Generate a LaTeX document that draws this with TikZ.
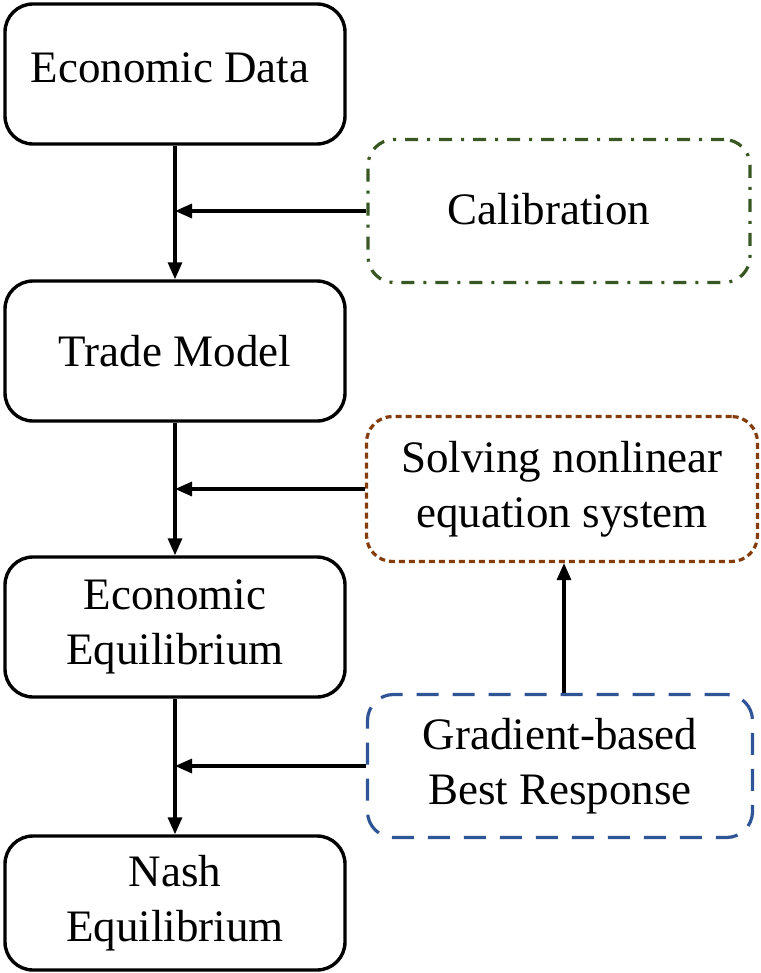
\documentclass[tikz,border=0pt]{standalone}
\usepackage{fontspec}
\setmainfont{Liberation Serif}
\usetikzlibrary{arrows.meta}
\definecolor{calgreen}{HTML}{385723}
\definecolor{solvebrown}{HTML}{843C0C}
\definecolor{gradblue}{HTML}{2F5597}
\begin{document}
\begin{tikzpicture}[x=1pt,y=-1pt,
  labeltext/.style={font=\fontsize{45}{55}\selectfont, align=center, inner sep=0pt},
  stagebox/.style={labeltext, draw=black, line width=3.4pt, rounded corners=28pt,
    minimum width=340pt, minimum height=140pt},
  methodbox/.style={labeltext, line width=3.2pt, rounded corners=26pt,
    minimum height=143pt},
  flow/.style={line width=3.2pt, -{Triangle[length=17pt,width=14pt]}}]
\useasboundingbox (0,0) rectangle (760,973);

% main pipeline
\node[stagebox] (data)  at (175,74)  {};
\node[labeltext] (dataText) at (170,68) {Economic Data};
\node[stagebox] (trade) at (175,351) {Trade Model};
\node[stagebox] (econ)  at (175,627) {Economic\\Equilibrium};
\node[stagebox, minimum height=134pt] (nash) at (175,903) {Nash\\Equilibrium};

% methods
\node[methodbox, draw=calgreen, minimum width=382pt,
  dash pattern=on 13pt off 9pt on 3pt off 9pt] (cal) at (559,211) {};
\node[labeltext] (calText) at (549,209) {Calibration};
\node[methodbox, draw=solvebrown, minimum width=391pt, minimum height=145pt,
  dash pattern=on 6pt off 4pt] (solve) at (562,489) {Solving nonlinear\\equation system};
\node[methodbox, draw=gradblue, minimum width=385pt,
  dash pattern=on 22pt off 14pt] (grad) at (560,766) {Gradient-based\\Best Response};

% connectors
\draw[flow] (data.south) -- (trade.north);
\draw[flow] (trade.south) -- (econ.north);
\draw[flow] (econ.south) -- (nash.north);
\draw[flow] (cal.west) -- (cal.west -| data.south);
\draw[flow] (solve.west) -- (solve.west -| trade.south);
\draw[flow] (grad.west) -- (grad.west -| econ.south);
\draw[flow] ([xshift=4pt]grad.north) -- ([xshift=4pt]grad.north |- solve.south);
\end{tikzpicture}
\end{document}
